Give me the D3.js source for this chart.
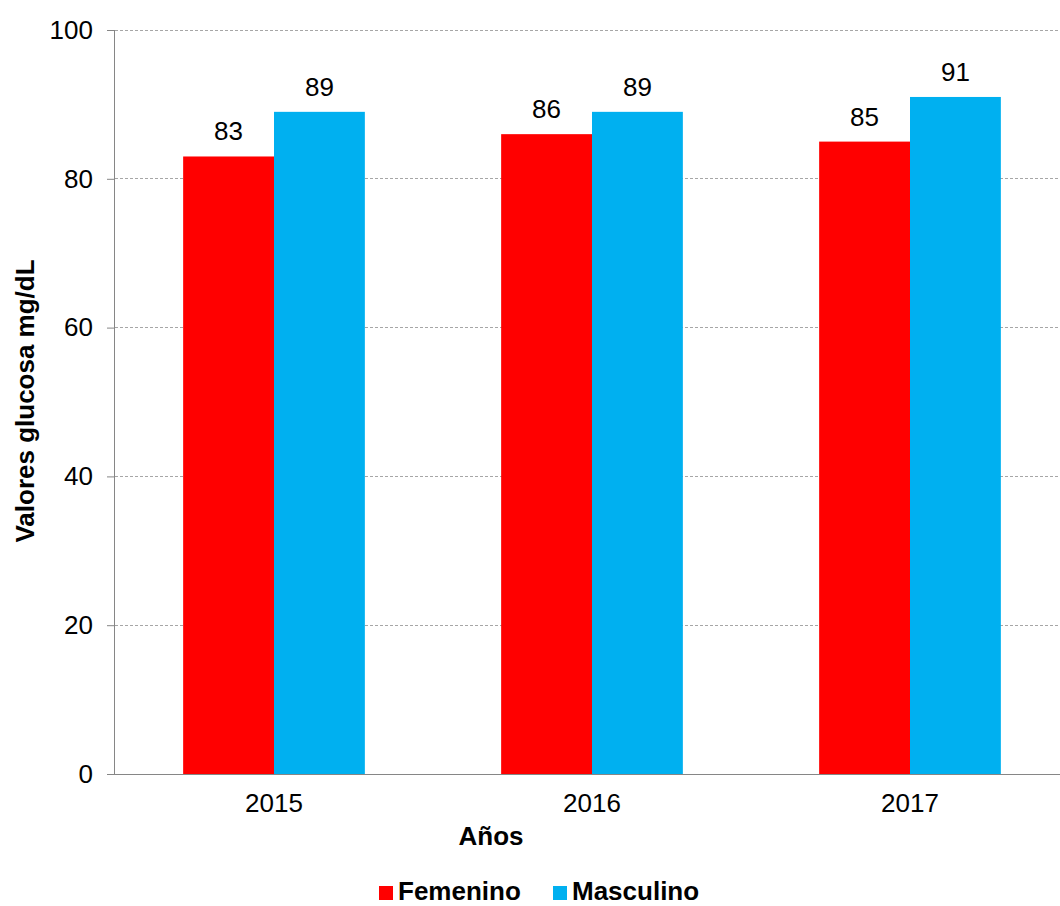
<!DOCTYPE html>
<html>
<head>
<meta charset="utf-8">
<script src="https://cdn.jsdelivr.net/npm/d3@7"></script>
<style>
  html, body { margin: 0; padding: 0; background: #fff; overflow: hidden; }
  svg { display: block; font-family: "Liberation Sans", Arial, sans-serif; }
</style>
</head>
<body>
<svg id="chart" width="1060" height="906"></svg>
<script>
// Average glucose values by year and sex
const years = ["2015", "2016", "2017"];
const seriesNames = ["Femenino", "Masculino"];
const femenino = [83, 86, 85];
const masculino = [89, 89, 91];
const yTicks = [0, 20, 40, 60, 80, 100];
const seriesColors = ["#ff0000", "#00b0f0"];

const rows = years.map((y, i) => ({ year: y, values: [femenino[i], masculino[i]] }));

const svg = d3.select("#chart");
// The plot area runs slightly past the right edge of the canvas
const plot = { left: 115, right: 1069, top: 30, bottom: 774 };

const x = d3.scaleBand().domain(years).range([plot.left, plot.right]).padding(0);
const barW = x.bandwidth() / 3.5;
const x1 = d3.scaleBand().domain(seriesNames).range([0, barW * 2]).padding(0);
const y = d3.scaleLinear().domain([0, 100]).range([plot.bottom, plot.top]);

// Horizontal dashed gridlines
svg.append("g")
  .selectAll("line")
  .data(yTicks.filter(d => d > 0))
  .join("line")
  .attr("x1", plot.left).attr("x2", plot.right)
  .attr("y1", d => y(d)).attr("y2", d => y(d))
  .attr("stroke", "#a6a6a6").attr("stroke-width", 1)
  .attr("stroke-dasharray", "3,2")
  .attr("shape-rendering", "crispEdges");

// Bars
const groups = svg.append("g")
  .selectAll("g")
  .data(rows)
  .join("g")
  .attr("transform", d => `translate(${x(d.year) + (x.bandwidth() - barW * 2) / 2},0)`);

groups.selectAll("rect")
  .data(d => d.values.map((v, i) => ({ name: seriesNames[i], value: v, color: seriesColors[i] })))
  .join("rect")
  .attr("x", d => x1(d.name))
  .attr("y", d => y(d.value))
  .attr("width", x1.bandwidth())
  .attr("height", d => y(0) - y(d.value))
  .attr("fill", d => d.color);

// Value labels
groups.selectAll("text")
  .data(d => d.values.map((v, i) => ({ name: seriesNames[i], value: v })))
  .join("text")
  .attr("x", d => x1(d.name) + x1.bandwidth() / 2)
  .attr("y", d => y(d.value) - 16)
  .attr("text-anchor", "middle")
  .attr("font-size", 26)
  .attr("fill", "#000")
  .text(d => d.value);

// Y axis
const yAxis = svg.append("g")
  .attr("transform", `translate(${plot.left},0)`)
  .call(d3.axisLeft(y).tickValues(yTicks).tickSize(8).tickPadding(14).tickFormat(d3.format("d")));
yAxis.select(".domain").attr("stroke", "#868686").attr("d", `M-0.5,${plot.top}V${plot.bottom}`);
yAxis.selectAll(".tick line").attr("stroke", "#868686");
yAxis.selectAll(".tick text").attr("font-size", 26).attr("fill", "#000")
  .attr("font-family", "Liberation Sans, Arial, sans-serif");

// X axis
const xAxis = svg.append("g")
  .attr("transform", `translate(0,${plot.bottom})`)
  .call(d3.axisBottom(x).tickSize(0).tickPadding(20));
xAxis.select(".domain").attr("stroke", "#868686").attr("d", `M${plot.left - 8},0.5H${plot.right}`);
xAxis.selectAll(".tick text").attr("font-size", 26).attr("fill", "#000")
  .attr("font-family", "Liberation Sans, Arial, sans-serif");

// Axis titles
svg.append("text")
  .attr("transform", `translate(34,401) rotate(-90)`)
  .attr("text-anchor", "middle")
  .attr("font-size", 26).attr("font-weight", "bold")
  .text("Valores glucosa mg/dL");

svg.append("text")
  .attr("x", 491).attr("y", 845)
  .attr("text-anchor", "middle")
  .attr("font-size", 26).attr("font-weight", "bold")
  .text("Años");

// Legend
const legend = svg.append("g");
const legendItems = [
  { name: seriesNames[0], color: seriesColors[0], x: 379 },
  { name: seriesNames[1], color: seriesColors[1], x: 553 }
];
legendItems.forEach(item => {
  legend.append("rect")
    .attr("x", item.x).attr("y", 886)
    .attr("width", 14).attr("height", 14)
    .attr("fill", item.color);
  legend.append("text")
    .attr("x", item.x + 19).attr("y", 900)
    .attr("font-size", 26).attr("font-weight", "bold")
    .text(item.name);
});
</script>
</body>
</html>
